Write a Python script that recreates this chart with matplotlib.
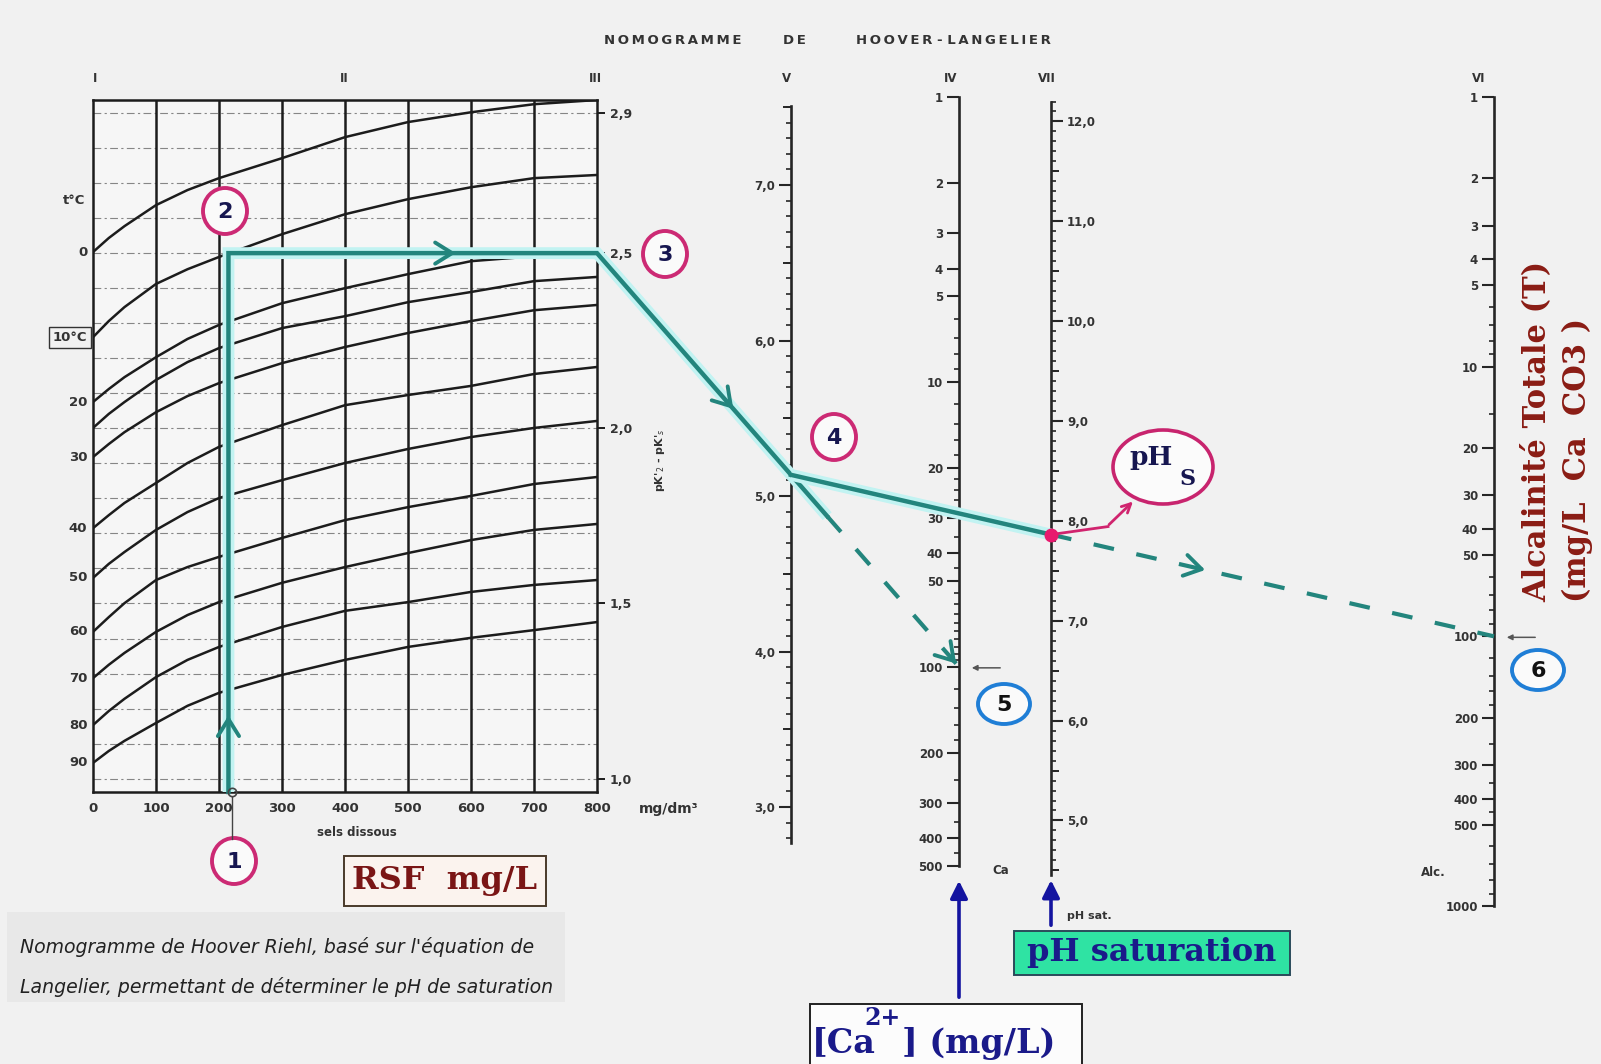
import numpy as np
import matplotlib.pyplot as plt
from matplotlib.patches import Ellipse, Rectangle
from matplotlib.ticker import FixedLocator, FixedFormatter, NullFormatter

W, H = 1601, 1064

# --- chart I : isothermes pK'2 - pK's en fonction des sels dissous ---
sels = [0, 25, 50, 100, 150, 200, 300, 400, 500, 600, 700, 800]
sels_grid = [0, 100, 200, 300, 400, 500, 600, 700, 800]
temps = [0, 10, 20, 25, 30, 40, 50, 60, 70, 80, 90]
iso_0 = [2.503, 2.543, 2.577, 2.637, 2.680, 2.714, 2.771, 2.831, 2.874, 2.902, 2.925, 2.937]
iso_10 = [2.260, 2.306, 2.346, 2.412, 2.454, 2.489, 2.554, 2.611, 2.654, 2.688, 2.714, 2.723]
iso_20 = [2.075, 2.112, 2.146, 2.203, 2.255, 2.295, 2.357, 2.400, 2.440, 2.477, 2.491, 2.503]
iso_25 = [2.001, 2.041, 2.075, 2.138, 2.189, 2.229, 2.286, 2.320, 2.360, 2.389, 2.420, 2.432]
iso_30 = [1.918, 1.955, 1.989, 2.046, 2.092, 2.129, 2.186, 2.232, 2.272, 2.306, 2.337, 2.352]
iso_40 = [1.715, 1.752, 1.787, 1.844, 1.901, 1.947, 2.009, 2.066, 2.095, 2.121, 2.155, 2.175]
iso_50 = [1.573, 1.613, 1.647, 1.710, 1.761, 1.801, 1.852, 1.901, 1.941, 1.975, 2.001, 2.021]
iso_60 = [1.419, 1.461, 1.501, 1.567, 1.604, 1.633, 1.687, 1.738, 1.775, 1.807, 1.841, 1.861]
iso_70 = [1.287, 1.325, 1.359, 1.419, 1.467, 1.504, 1.559, 1.604, 1.644, 1.681, 1.710, 1.727]
iso_80 = [1.153, 1.193, 1.228, 1.290, 1.339, 1.376, 1.433, 1.479, 1.504, 1.533, 1.553, 1.567]
iso_90 = [1.045, 1.079, 1.108, 1.159, 1.208, 1.245, 1.296, 1.339, 1.376, 1.402, 1.424, 1.447]
isotherms = [iso_0, iso_10, iso_20, iso_25, iso_30, iso_40, iso_50,
             iso_60, iso_70, iso_80, iso_90]
temp_labels = ['0', '10°C', '20', '', '30', '40', '50', '60', '70', '80', '90']
pk_ticks = [1.0, 1.5, 2.0, 2.5, 2.9]
pk_lines = list(np.round(np.arange(1.0, 2.95, 0.1), 1))

# --- echelles V, IV, VII, VI ---
v_major = [3, 4, 5, 6, 7]
v_minor = list(np.round(np.arange(2.8, 7.51, 0.1), 1))
v_mid = [3.5, 4.5, 5.5, 6.5, 7.5]
ph_major = [5, 6, 7, 8, 9, 10, 11, 12]
ph_minor = list(np.round(np.arange(4.5, 12.21, 0.1), 1))
ph_mid = [4.5, 5.5, 6.5, 7.5, 8.5, 9.5, 10.5, 11.5]
ca_major = [1, 2, 3, 4, 5, 10, 20, 30, 40, 50, 100, 200, 300, 400, 500]
ca_minor = [6, 7, 8, 9, 12, 14, 16, 18, 22, 24, 26, 28, 35, 45, 55, 60, 65, 70,
            75, 80, 85, 90, 95, 120, 140, 160, 180, 250, 350, 450]
alk_major = [1, 2, 3, 4, 5, 10, 20, 30, 40, 50, 100, 200, 300, 400, 500, 1000]
alk_minor = [6, 7, 8, 9, 15, 60, 70, 80, 90, 120, 140, 160, 180, 250, 350, 450,
             600, 700, 800, 900]

# exemple de lecture
rsf = 215      # mg/L
pk_read = 2.5
ca = 100       # mg/L Ca
alk = 100      # mg/L CaCO3

TEAL = '#23857d'
GLOW = '#c2f3f2'
PINK = '#cc2a74'
BLUE = '#1f7ed6'
NAVY = '#161650'
INK = '#262626'
DARKRED = '#8a1c14'


def comma(v):
    return f'{v:.1f}'.replace('.', ',')


fig = plt.figure(figsize=(W / 100, H / 100), dpi=100)
fig.patch.set_facecolor('#f1f1f1')

# grille des isothermes
g = fig.add_axes([93 / W, 1 - 792 / H, 504 / W, 692 / H])
g.set_facecolor('#f6f6f6')
g.set_xlim(0, 800)
g.set_ylim(0.962, 2.937)
for v in pk_lines:
    g.axhline(v, color='#6a6a6a', lw=0.8, dashes=(7, 3, 2, 3), alpha=0.8)
for s in sels_grid[1:-1]:
    g.axvline(s, color='#1c1c1c', lw=1.8)
for pk in isotherms:
    g.plot(sels, pk, color='#1c1c1c', lw=1.8, solid_joinstyle='round')
for sp in g.spines.values():
    sp.set_linewidth(1.8)
    sp.set_color('#1c1c1c')
g.set_xticks(sels_grid)
g.set_xticklabels([str(s) for s in sels_grid], fontweight='bold')
g.tick_params(axis='x', length=0, pad=7, labelsize=9.5, labelcolor='#333')
g.yaxis.tick_right()
g.set_yticks(pk_ticks)
g.set_yticklabels([comma(v) for v in pk_ticks], fontweight='bold')
g.tick_params(axis='y', direction='out', length=6, width=1.4, pad=3,
              labelsize=9, labelcolor='#333', color='#1c1c1c')
for pk, lab in zip(isotherms, temp_labels):
    if not lab:
        continue
    box = None
    if lab == '10°C':
        box = dict(boxstyle='square,pad=0.3', fc='none', ec='#333', lw=1)
    g.text(-9, pk[0], lab, ha='right', va='center', fontsize=9.5,
           fontweight='bold', color='#333', bbox=box, clip_on=False)


def scale(xpix, ytop, ybot, lim, side, major, labels, minor, mid=(), log=False):
    if side == 'left':
        rect = [xpix / W, 1 - ybot / H, 2 / W, (ybot - ytop) / H]
    else:
        rect = [(xpix - 2) / W, 1 - ybot / H, 2 / W, (ybot - ytop) / H]
    pair = []
    for k in range(2):
        a = fig.add_axes(rect, label=f'{xpix}-{k}')
        a.patch.set_visible(False)
        if log:
            a.set_yscale('log')
        a.set_ylim(lim)
        a.set_xlim(0, 1)
        a.set_xticks([])
        for sp in a.spines.values():
            sp.set_visible(False)
        a.yaxis.set_ticks_position(side)
        pair.append(a)
    a, b = pair
    a.spines[side].set_visible(True)
    a.spines[side].set_linewidth(1.9)
    a.spines[side].set_color(INK)
    a.yaxis.set_major_locator(FixedLocator(major))
    a.yaxis.set_major_formatter(FixedFormatter(labels))
    a.yaxis.set_minor_locator(FixedLocator(minor))
    a.yaxis.set_minor_formatter(NullFormatter())
    a.tick_params(which='major', length=8.5, width=1.5, color=INK, pad=3,
                  labelsize=8.5, labelcolor='#333')
    a.tick_params(which='minor', length=3.5, width=1.2, color=INK)
    for lbl in a.get_yticklabels():
        lbl.set_fontweight('bold')
    b.yaxis.set_major_locator(FixedLocator(list(mid)))
    b.yaxis.set_major_formatter(NullFormatter())
    b.yaxis.set_minor_locator(FixedLocator([]))
    b.tick_params(which='major', length=6, width=1.4, color=INK)
    return a, (0 if side == 'left' else 1)


ax_v, xv = scale(791, 105.7, 842.8, (2.77, 7.51), 'left', v_major,
                 [comma(v) for v in v_major], v_minor, v_mid)
ax_ca, xca = scale(959, 97, 866, (500, 1), 'left', ca_major,
                   [str(v) for v in ca_major], ca_minor, log=True)
ax_ph, xph = scale(1051, 101.5, 875.4, (4.45, 12.2), 'right', ph_major,
                   [comma(v) for v in ph_major], ph_minor, ph_mid)
ax_alk, xalk = scale(1494, 97, 906, (1000, 1), 'left', alk_major,
                     [str(v) for v in alk_major], alk_minor, log=True)

# calque en pixels pour les tracés de lecture et les annotations
ov = fig.add_axes([0, 0, 1, 1], zorder=10)
ov.set_xlim(0, W)
ov.set_ylim(H, 0)
ov.axis('off')


def to_px(ax, x, y):
    return ov.transData.inverted().transform(ax.transData.transform((x, y)))


def along(p, q, t):
    return p + t * (q - p)


def chevron(tip, direction, size=20, ang=32):
    d = direction / np.hypot(*direction)
    for sgn in (1, -1):
        a = np.radians(180 + sgn * ang)
        r = np.array([d[0] * np.cos(a) - d[1] * np.sin(a),
                      d[0] * np.sin(a) + d[1] * np.cos(a)])
        end = tip + size * r
        ov.plot([tip[0], end[0]], [tip[1], end[1]], color=TEAL, lw=2.8,
                solid_capstyle='round')


def teal(pts, dashed=False):
    xs, ys = zip(*pts)
    if dashed:
        ov.plot(xs, ys, color=TEAL, lw=3.0, dashes=(5, 5.5))
    else:
        ov.plot(xs, ys, color=GLOW, lw=8.5, solid_capstyle='butt',
                solid_joinstyle='miter')
        ov.plot(xs, ys, color=TEAL, lw=3.2, solid_joinstyle='miter')


p_bot = to_px(g, rsf, 0.962)
p2 = to_px(g, rsf, pk_read)
p3 = to_px(g, 800, pk_read)
p_ca = to_px(ax_ca, xca, ca)
x_v = to_px(ax_v, xv, 5)[0]
t_v = (x_v - p3[0]) / (p_ca[0] - p3[0])
p_v = along(p3, p_ca, t_v)
p_v_end = along(p3, p_ca, t_v + 0.1)
p_alk = to_px(ax_alk, xalk, alk)
x_ph = to_px(ax_ph, xph, 8)[0]
p_phs = along(p_v, p_alk, (x_ph - p_v[0]) / (p_alk[0] - p_v[0]))

teal([p_bot, p2, p3, p_v_end])
teal([p_v, p_phs])
teal([p_v_end, p_ca], dashed=True)
teal([p_phs, p_alk], dashed=True)
chevron(to_px(g, rsf, 1.17), p2 - p_bot)
chevron(to_px(g, 570, pk_read), p3 - p2)
chevron(along(p3, p_v, 0.69), p_v - p3)
chevron(along(p_v_end, p_ca, 0.96), p_ca - p_v_end)
chevron(along(p_phs, p_alk, 0.34), p_alk - p_phs)

# repère RSF sous la grille
ov.plot(p_bot[0] + 4, p_bot[1], 'o', ms=6, mfc='none', mec='#444', mew=1.2)
ov.plot([p_bot[0] + 4, p_bot[0] + 4], [p_bot[1] + 5, 839], color='#444', lw=1)

# pH de saturation
ov.plot(*p_phs, 'o', ms=9, color='#e8196e', zorder=12)
ov.annotate('', xy=(p_phs[0] + 84, p_phs[1] - 35),
            xytext=(p_phs[0] + 56, p_phs[1] - 8),
            arrowprops=dict(arrowstyle='->', color='#d0246e', lw=2,
                            mutation_scale=16))
ov.plot([p_phs[0], p_phs[0] + 57], [p_phs[1], p_phs[1] - 8], color='#d0246e',
        lw=2)
ov.add_patch(Ellipse((1163, 467), 100, 74, fc='#fbfbfb', ec='#c8246e', lw=2.6))
ov.text(1151, 458, 'pH', ha='center', va='center', fontsize=19,
        fontweight='bold', family='DejaVu Serif', color=NAVY)
ov.text(1188, 479, 'S', ha='center', va='center', fontsize=16,
        fontweight='bold', family='DejaVu Serif', color=NAVY)

# petites flèches de lecture
for p in (p_ca, p_alk):
    ov.annotate('', xy=(p[0] + 10, p[1] + 1), xytext=(p[0] + 44, p[1] + 1),
                arrowprops=dict(arrowstyle='-|>', color='#555', lw=1.1,
                                mutation_scale=8))

# numéros des étapes
steps = [('1', 234, 861, PINK), ('2', 225, 211, PINK), ('3', 665, 254, PINK),
         ('4', 834, 437, PINK), ('5', 1004, 704, BLUE), ('6', 1538, 670, BLUE)]
for lab, x, y, col in steps:
    w, h = (44, 46) if col == PINK else (52, 40)
    ov.add_patch(Ellipse((x, y), w, h, fc='#fafafa', ec=col, lw=2.8))
    ov.text(x, y + 1, lab, ha='center', va='center', fontsize=16,
            fontweight='bold', color=NAVY if col == PINK else '#111')

# libellés des échelles
for lab, x in [('I', 95), ('II', 344), ('III', 595), ('V', 787), ('IV', 951),
               ('VII', 1047), ('VI', 1479)]:
    ov.text(x, 78, lab, ha='center', va='center', fontsize=8.5,
            fontweight='bold', color='#333')

sp = '\u2009'
ov.text(673, 41, sp.join('NOMOGRAMME'), ha='center', va='center',
        fontsize=9.5, fontweight='bold', color='#333')
ov.text(794, 41, sp.join('DE'), ha='center', va='center', fontsize=9.5,
        fontweight='bold', color='#333')
ov.text(953, 41, sp.join('HOOVER') + ' - ' + sp.join('LANGELIER'),
        ha='center', va='center', fontsize=9.5, fontweight='bold', color='#333')

ov.text(74, 200, 't°C', ha='center', va='center', fontsize=9.5,
        fontweight='bold', color='#333')
ov.text(669, 809, 'mg/dm³', ha='center', va='center', fontsize=10,
        fontweight='bold', color='#333')
ov.text(357, 832, 'sels dissous', ha='center', va='center', fontsize=8.5,
        fontweight='bold', color='#333')
ov.text(660, 460, r"pK'$_2$ - pK'$_s$", ha='center', va='center',
        rotation=90, fontsize=8, fontweight='bold', color='#333')
ov.text(992, 871, 'Ca', ha='left', va='center', fontsize=8.5,
        fontweight='bold', color='#333')
ov.text(1446, 873, 'Alc.', ha='right', va='center', fontsize=8.5,
        fontweight='bold', color='#333')
ov.text(1067, 916, 'pH sat.', ha='left', va='center', fontsize=8,
        fontweight='bold', color='#333')

# titres en rouge
ov.text(1537, 602, 'Alcalinité Totale (T)', rotation=90, ha='center',
        va='bottom', fontsize=22, fontweight='bold', family='DejaVu Serif',
        color=DARKRED)
ov.text(1577, 602, '(mg/L  Ca  CO3 )', rotation=90, ha='center', va='bottom',
        fontsize=22, fontweight='bold', family='DejaVu Serif', color=DARKRED)

ov.add_patch(Rectangle((344, 856), 202, 50, fc='#fbf3ee', ec='#4a3a2a', lw=1.4))
ov.text(445, 881, 'RSF  mg/L', ha='center', va='center', fontsize=23,
        fontweight='bold', family='DejaVu Serif', color='#7a1515')

# légende
ov.add_patch(Rectangle((7, 912), 558, 90, fc='#e8e8e8', ec='none'))
ov.text(20, 947, "Nomogramme de Hoover Riehl, basé sur l'équation de",
        ha='left', va='center', fontsize=13.6, style='italic', color='#222')
ov.text(20, 987, 'Langelier, permettant de déterminer le pH de saturation',
        ha='left', va='center', fontsize=13.6, style='italic', color='#222')

# entrées Ca et pH
ov.add_patch(Rectangle((1014, 931), 276, 44, fc='#2fe3a3', ec='#2a4a5a', lw=1.4))
ov.text(1152, 953, 'pH saturation', ha='center', va='center', fontsize=23,
        fontweight='bold', family='DejaVu Serif', color='#1a1a8a')
ov.add_patch(Rectangle((810, 1004), 272, 62, fc='#fcfcfc', ec='#222', lw=1.4))
ov.text(812, 1043, '[Ca', ha='left', va='center', fontsize=24,
        fontweight='bold', family='DejaVu Serif', color='#1a1a8a')
ov.text(864, 1018, '2+', ha='left', va='center', fontsize=17,
        fontweight='bold', family='DejaVu Serif', color='#1a1a8a')
ov.text(902, 1043, '] (mg/L)', ha='left', va='center', fontsize=24,
        fontweight='bold', family='DejaVu Serif', color='#1a1a8a')

ca_x = to_px(ax_ca, xca, 500)
ph_x = to_px(ax_ph, xph, 4.45)
ov.annotate('', xy=(ca_x[0], ca_x[1] + 12), xytext=(ca_x[0], 1000),
            arrowprops=dict(arrowstyle='-|>', color='#1414a0', lw=2.6,
                            mutation_scale=26))
ov.annotate('', xy=(ph_x[0], ph_x[1] + 2), xytext=(ph_x[0], 928),
            arrowprops=dict(arrowstyle='-|>', color='#1414a0', lw=2.6,
                            mutation_scale=26))

fig.savefig('out.png', dpi=100, facecolor=fig.get_facecolor())
